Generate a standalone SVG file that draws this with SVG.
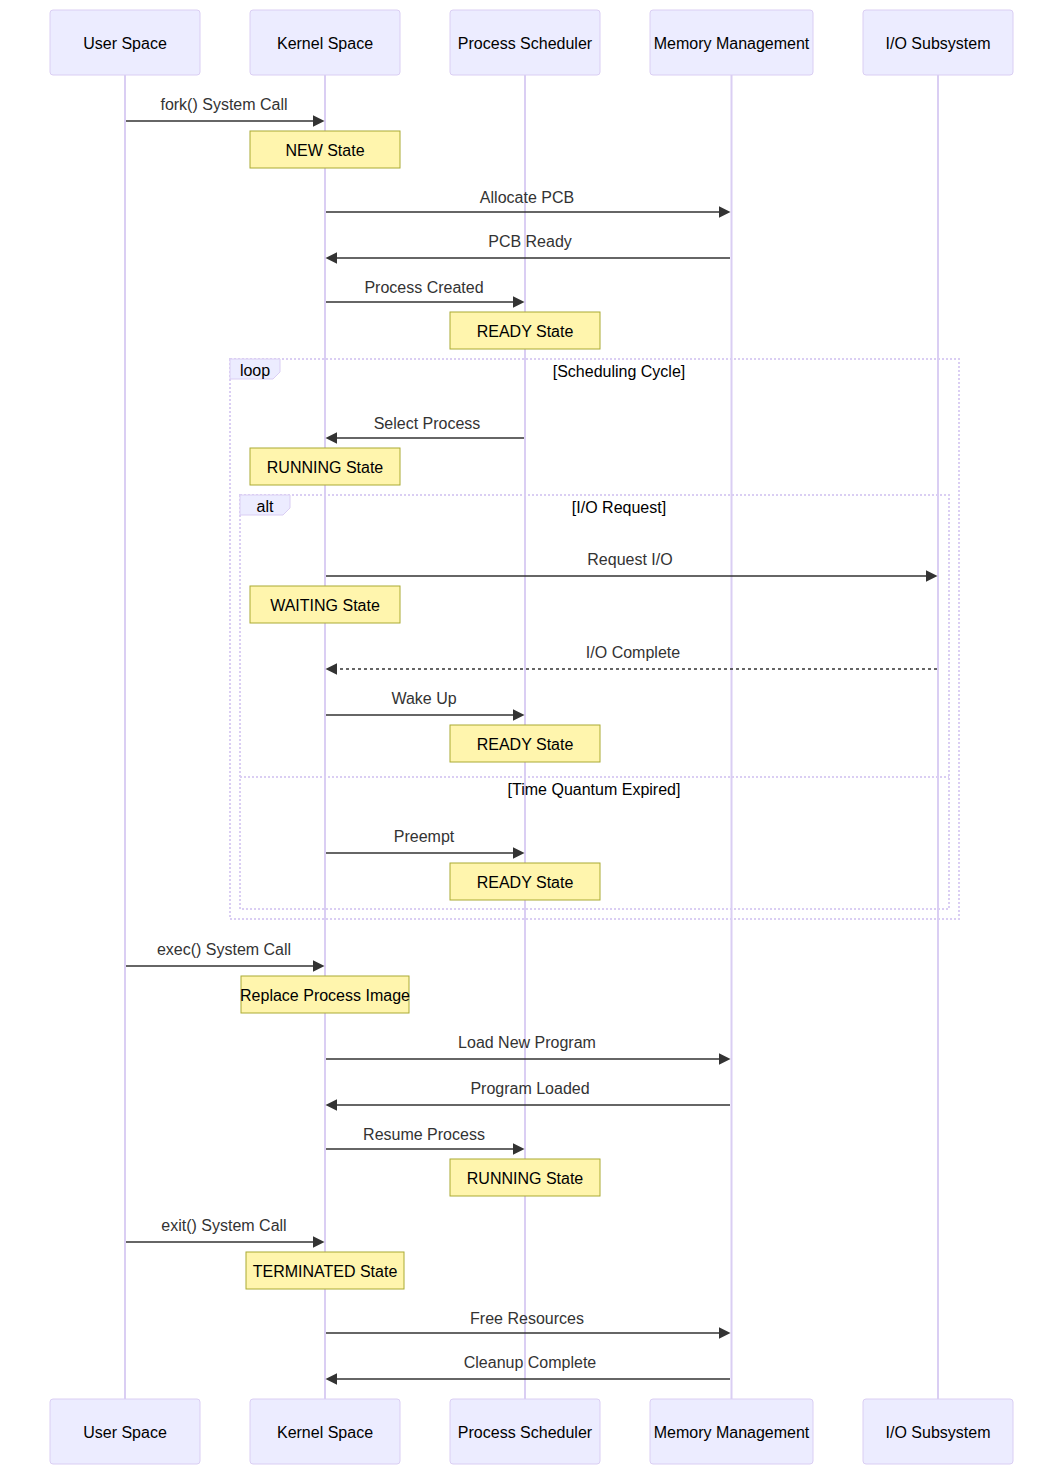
<svg xmlns="http://www.w3.org/2000/svg" width="1063" height="1475" viewBox="0 0 1063 1475">
<style>
text{font-family:"Liberation Sans",Arial,sans-serif;font-size:16px;text-anchor:middle;dominant-baseline:central}
.actor{fill:#ECECFF;stroke:#DACEF3;stroke-width:1}
.actorText{fill:#000}
.life{stroke:#DACEF3;stroke-width:2}
.msg{stroke:#333;stroke-width:1.5;fill:none}
.dash{stroke-dasharray:3,3}
.msgText{fill:#333}
.note{fill:#FFF5AD;stroke:#AAAA33;stroke-width:1}
.noteText{fill:#000}
.frame{fill:none;stroke:#DACEF3;stroke-width:2;stroke-dasharray:2,2}
.labelBox{fill:#ECECFF;stroke:#DACEF3;stroke-width:1}
.lbl{fill:#000}
</style>
<defs>
<marker id="arrow" viewBox="0 0 10 10" refX="7.9" refY="5" markerUnits="userSpaceOnUse" markerWidth="12" markerHeight="12" orient="auto-start-reverse">
<path d="M0,0 L10,5 L0,10 z" fill="#333"/>
</marker>
</defs>
<rect width="1063" height="1475" fill="#fff"/>
<g id="lifelines">
<line class="life" x1="125" y1="75" x2="125" y2="1399"/>
<line class="life" x1="325" y1="75" x2="325" y2="1399"/>
<line class="life" x1="525" y1="75" x2="525" y2="1399"/>
<line class="life" x1="731.5" y1="75" x2="731.5" y2="1399"/>
<line class="life" x1="938" y1="75" x2="938" y2="1399"/>
</g>
<g id="actor-user-top"><rect class="actor" x="50" y="10" width="150" height="65" rx="3"/><text class="actorText" x="125" y="43">User Space</text></g>
<g id="actor-kernel-top"><rect class="actor" x="250" y="10" width="150" height="65" rx="3"/><text class="actorText" x="325" y="43">Kernel Space</text></g>
<g id="actor-sched-top"><rect class="actor" x="450" y="10" width="150" height="65" rx="3"/><text class="actorText" x="525" y="43">Process Scheduler</text></g>
<g id="actor-mem-top"><rect class="actor" x="650" y="10" width="163" height="65" rx="3"/><text class="actorText" x="731.5" y="43">Memory Management</text></g>
<g id="actor-io-top"><rect class="actor" x="863" y="10" width="150" height="65" rx="3"/><text class="actorText" x="938" y="43">I/O Subsystem</text></g>
<g id="loop-frame">
<rect class="frame" x="230" y="359" width="729" height="560"/>
<polygon class="labelBox" points="230,359 280,359 280,372 273,379 230,379"/>
<text class="lbl" x="255" y="370">loop</text>
<text class="lbl" x="619" y="371">[Scheduling Cycle]</text>
</g>
<g id="alt-frame">
<rect class="frame" x="240" y="495" width="709" height="414"/>
<polygon class="labelBox" points="240,495 290,495 290,508 283,515 240,515"/>
<text class="lbl" x="265" y="506">alt</text>
<text class="lbl" x="619" y="507">[I/O Request]</text>
<line class="frame" x1="240" y1="777" x2="949" y2="777"/>
<text class="lbl" x="594" y="789">[Time Quantum Expired]</text>
</g>
<g id="connectors">
<line class="msg" x1="126" y1="121" x2="322" y2="121" marker-end="url(#arrow)"/>
<text class="msgText" x="224" y="104">fork() System Call</text>
<line class="msg" x1="326" y1="212" x2="728" y2="212" marker-end="url(#arrow)"/>
<text class="msgText" x="527" y="197">Allocate PCB</text>
<line class="msg" x1="730" y1="258" x2="328" y2="258" marker-end="url(#arrow)"/>
<text class="msgText" x="530" y="241">PCB Ready</text>
<line class="msg" x1="326" y1="302" x2="522" y2="302" marker-end="url(#arrow)"/>
<text class="msgText" x="424" y="287">Process Created</text>
<line class="msg" x1="524" y1="438" x2="328" y2="438" marker-end="url(#arrow)"/>
<text class="msgText" x="427" y="423">Select Process</text>
<line class="msg" x1="326" y1="576" x2="935" y2="576" marker-end="url(#arrow)"/>
<text class="msgText" x="630" y="559">Request I/O</text>
<line class="msg dash" x1="937" y1="669" x2="328" y2="669" marker-end="url(#arrow)"/>
<text class="msgText" x="633" y="652">I/O Complete</text>
<line class="msg" x1="326" y1="715" x2="522" y2="715" marker-end="url(#arrow)"/>
<text class="msgText" x="424" y="698">Wake Up</text>
<line class="msg" x1="326" y1="853" x2="522" y2="853" marker-end="url(#arrow)"/>
<text class="msgText" x="424" y="836">Preempt</text>
<line class="msg" x1="126" y1="966" x2="322" y2="966" marker-end="url(#arrow)"/>
<text class="msgText" x="224" y="949">exec() System Call</text>
<line class="msg" x1="326" y1="1059" x2="728" y2="1059" marker-end="url(#arrow)"/>
<text class="msgText" x="527" y="1042">Load New Program</text>
<line class="msg" x1="730" y1="1105" x2="328" y2="1105" marker-end="url(#arrow)"/>
<text class="msgText" x="530" y="1088">Program Loaded</text>
<line class="msg" x1="326" y1="1149" x2="522" y2="1149" marker-end="url(#arrow)"/>
<text class="msgText" x="424" y="1134">Resume Process</text>
<line class="msg" x1="126" y1="1242" x2="322" y2="1242" marker-end="url(#arrow)"/>
<text class="msgText" x="224" y="1225">exit() System Call</text>
<line class="msg" x1="326" y1="1333" x2="728" y2="1333" marker-end="url(#arrow)"/>
<text class="msgText" x="527" y="1318">Free Resources</text>
<line class="msg" x1="730" y1="1379" x2="328" y2="1379" marker-end="url(#arrow)"/>
<text class="msgText" x="530" y="1362">Cleanup Complete</text>
</g>
<g id="note-new"><rect class="note" x="250" y="131" width="150" height="37"/><text class="noteText" x="325" y="150">NEW State</text></g>
<g id="note-ready1"><rect class="note" x="450" y="312" width="150" height="37"/><text class="noteText" x="525" y="331">READY State</text></g>
<g id="note-running1"><rect class="note" x="250" y="448" width="150" height="37"/><text class="noteText" x="325" y="467">RUNNING State</text></g>
<g id="note-waiting"><rect class="note" x="250" y="586" width="150" height="37"/><text class="noteText" x="325" y="605">WAITING State</text></g>
<g id="note-ready2"><rect class="note" x="450" y="725" width="150" height="37"/><text class="noteText" x="525" y="744">READY State</text></g>
<g id="note-ready3"><rect class="note" x="450" y="863" width="150" height="37"/><text class="noteText" x="525" y="882">READY State</text></g>
<g id="note-replace"><rect class="note" x="241" y="976" width="168" height="37"/><text class="noteText" x="325" y="995">Replace Process Image</text></g>
<g id="note-running2"><rect class="note" x="450" y="1159" width="150" height="37"/><text class="noteText" x="525" y="1178">RUNNING State</text></g>
<g id="note-terminated"><rect class="note" x="246" y="1252" width="158" height="37"/><text class="noteText" x="325" y="1271">TERMINATED State</text></g>
<g id="actor-user-bottom"><rect class="actor" x="50" y="1399" width="150" height="65" rx="3"/><text class="actorText" x="125" y="1432">User Space</text></g>
<g id="actor-kernel-bottom"><rect class="actor" x="250" y="1399" width="150" height="65" rx="3"/><text class="actorText" x="325" y="1432">Kernel Space</text></g>
<g id="actor-sched-bottom"><rect class="actor" x="450" y="1399" width="150" height="65" rx="3"/><text class="actorText" x="525" y="1432">Process Scheduler</text></g>
<g id="actor-mem-bottom"><rect class="actor" x="650" y="1399" width="163" height="65" rx="3"/><text class="actorText" x="731.5" y="1432">Memory Management</text></g>
<g id="actor-io-bottom"><rect class="actor" x="863" y="1399" width="150" height="65" rx="3"/><text class="actorText" x="938" y="1432">I/O Subsystem</text></g>
</svg>
